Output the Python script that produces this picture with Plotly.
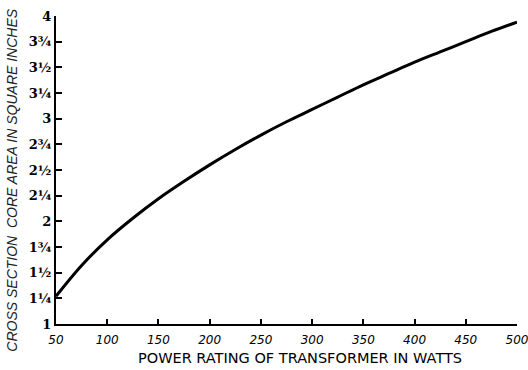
import plotly.graph_objects as go

# Transformer power rating (watts) vs. core cross-section area (sq. in.)
watts = [50, 75, 100, 125, 150, 175, 200, 225, 250, 275, 300,
         325, 350, 375, 400, 425, 450, 475, 500]
core_area = [1.27, 1.57, 1.82, 2.03, 2.22, 2.39, 2.55, 2.70, 2.84, 2.97, 3.09,
             3.21, 3.33, 3.44, 3.55, 3.65, 3.75, 3.85, 3.94]

x_ticks = [50, 100, 150, 200, 250, 300, 350, 400, 450, 500]
y_ticks = [1, 1.25, 1.5, 1.75, 2, 2.25, 2.5, 2.75, 3, 3.25, 3.5, 3.75, 4]
y_tick_text = ["1", "1¼", "1½", "1¾", "2", "2¼", "2½", "2¾", "3", "3¼", "3½", "3¾", "4"]

fig = go.Figure()
fig.add_trace(go.Scatter(
    x=watts, y=core_area, mode="lines",
    line=dict(color="black", width=3, shape="spline", smoothing=1.0),
    hoverinfo="skip", showlegend=False,
))

fig.update_layout(
    width=528, height=370,
    margin=dict(l=56, r=11, t=16, b=46, autoexpand=False),
    paper_bgcolor="white", plot_bgcolor="white",
    xaxis=dict(
        range=[50, 500], tickvals=x_ticks, ticktext=[f"<i>{v}</i>" for v in x_ticks],
        ticklabeloverflow="allow", automargin=False, ticklabelstandoff=4,
        showgrid=False, zeroline=False, showline=True, linecolor="black", linewidth=2,
        ticks="inside", ticklen=5, tickwidth=1.5, tickcolor="black",
        tickfont=dict(family="DejaVu Sans", size=12, color="black"),
    ),
    yaxis=dict(
        range=[1, 4], tickvals=y_ticks, ticktext=y_tick_text, automargin=False,
        showgrid=False, zeroline=False, showline=True, linecolor="black", linewidth=2,
        ticks="inside", ticklen=6, tickwidth=2, tickcolor="black",
        tickfont=dict(family="DejaVu Serif", size=13, color="black", weight="bold"),
    ),
    annotations=[
        dict(text="POWER RATING OF TRANSFORMER IN WATTS", xref="paper", yref="paper",
             x=0.53, y=-0.11, xanchor="center", yanchor="middle", showarrow=False,
             font=dict(family="DejaVu Sans", size=14.5, color="black")),
        dict(text="<i>CROSS SECTION  CORE AREA IN SQUARE INCHES</i>", xref="paper", yref="paper",
             x=-0.095, y=0.466, xanchor="center", yanchor="middle", showarrow=False,
             textangle=-90,
             font=dict(family="Liberation Sans", size=14, color="#222")),
    ],
)

fig.write_html("out.html")
